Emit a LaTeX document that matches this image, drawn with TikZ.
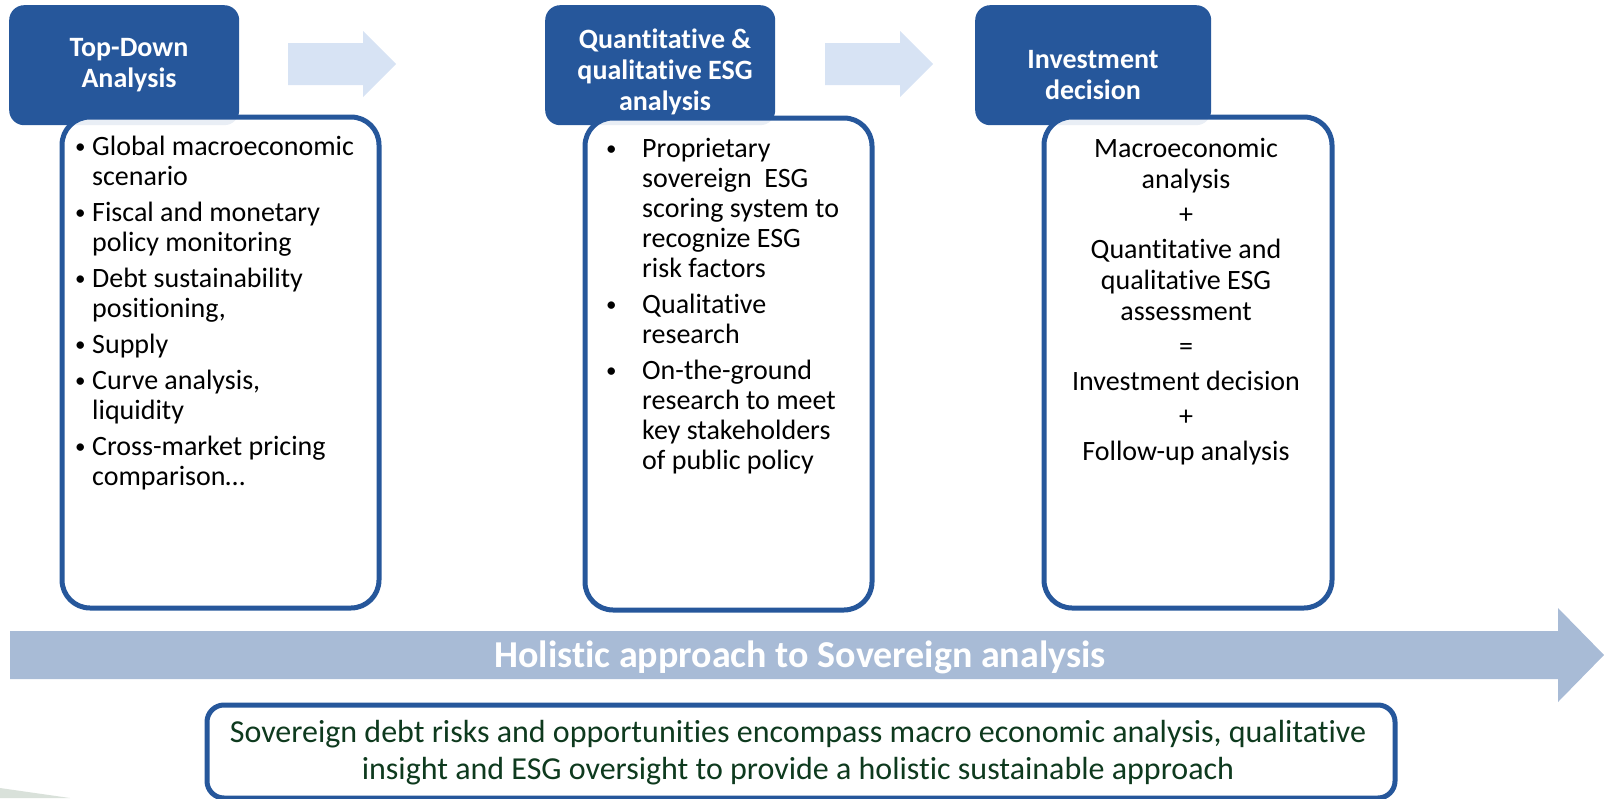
\documentclass[tikz,border=0pt]{standalone}
\usepackage{fontspec}
\setmainfont{Carlito}[Ligatures={NoCommon}]
\definecolor{hdrblue}{RGB}{38,87,155}
\definecolor{arrlight}{RGB}{215,227,244}
\definecolor{arrbig}{RGB}{168,187,214}
\definecolor{txtgreen}{RGB}{14,58,30}
\definecolor{wedgegreen}{RGB}{217,225,218}
\tikzset{
  hdrbox/.style={fill=hdrblue, rounded corners=15pt, inner sep=0pt, anchor=north west},
  contentbox/.style={draw=hdrblue, line width=5pt, fill=white, fill opacity=0.9, rounded corners=28pt, inner sep=0pt, anchor=north west},
  summarybox/.style={draw=hdrblue, line width=5pt, fill=white, rounded corners=17pt, inner sep=0pt, anchor=north west},
  hdrtext/.style={font=\fontsize{28}{31}\selectfont\bfseries, text=white, inner sep=0pt, anchor=base},
  bodytext/.style={font=\fontsize{28}{30}\selectfont, text=black, inner sep=0pt},
  centertext/.style={font=\fontsize{28}{31}\selectfont, text=black, inner sep=0pt, anchor=base},
  smallarrow/.style={fill=arrlight},
  bigarrow/.style={fill=arrbig},
}
\newcommand{\bul}[1]{\makebox[#1][l]{\fontsize{21}{21}\selectfont\raisebox{2pt}{•}}}
\begin{document}
\begin{tikzpicture}[x=1pt,y=-1pt]
\useasboundingbox (0,0) rectangle (1604,798);
% decorative wedge
\fill[wedgegreen] (0,788) -- (70,798) -- (0,798) -- cycle;
% small block arrows
\fill[smallarrow] (288,43) -- (363,43) -- (363,31) -- (396,64) -- (363,97) -- (363,85) -- (288,85) -- cycle;
\fill[smallarrow] (825,43) -- (900,43) -- (900,31) -- (933,64) -- (900,97) -- (900,85) -- (825,85) -- cycle;
% headers
\node[hdrbox, minimum width=230pt, minimum height=120pt] (h1) at (9,5) {};
\node[hdrbox, minimum width=230pt, minimum height=120pt] (h2) at (545,5) {};
\node[hdrbox, minimum width=236pt, minimum height=120pt] (h3) at (975,5) {};
% content boxes
\node[contentbox, minimum width=317pt, minimum height=491pt] (b1) at (59.5,114.5) {};
\node[contentbox, minimum width=287pt, minimum height=492pt] (b2) at (582.5,115.5) {};
\node[contentbox, minimum width=288pt, minimum height=491pt] (b3) at (1041.5,114.5) {};
% header texts
\node[hdrtext] (h1t) at (129,56) {\begin{tabular}[t]{@{}c@{}}Top-Down\\Analysis\end{tabular}};
\node[hdrtext] (h2t) at (665,48) {\begin{tabular}[t]{@{}c@{}}Quantitative \&\\qualitative ESG\\analysis\end{tabular}};
\node[hdrtext] (h3t) at (1093,68) {\begin{tabular}[t]{@{}c@{}}Investment\\decision\end{tabular}};
% body texts
\node[bodytext, anchor=base west] (b1t) at (75,155) {\begin{tabular}[t]{@{}l@{}l@{}}
\bul{17pt} & Global macroeconomic\\
 & scenario\\[6pt]
\bul{17pt} & Fiscal and monetary\\
 & policy monitoring\\[6pt]
\bul{17pt} & Debt sustainability\\
 & positioning,\\[6pt]
\bul{17pt} & Supply\\[6pt]
\bul{17pt} & Curve analysis,\\
 & liquidity\\[6pt]
\bul{17pt} & Cross-market pricing\\
 & comparison…
\end{tabular}};
\node[bodytext, anchor=base west] (b2t) at (606,157) {\begin{tabular}[t]{@{}l@{}l@{}}
\bul{36pt} & Proprietary\\
 & sovereign\ \ ESG\\
 & scoring system to\\
 & recognize ESG\\
 & risk factors\\[6pt]
\bul{36pt} & Qualitative\\
 & research\\[6pt]
\bul{36pt} & On-the-ground\\
 & research to meet\\
 & key stakeholders\\
 & of public policy
\end{tabular}};
\node[centertext] (b3t) at (1186,157) {\begin{tabular}[t]{@{}c@{}}
Macroeconomic\\
analysis\\[4pt]
+\\[4pt]
Quantitative and\\
qualitative ESG\\
assessment\\[4pt]
=\\[4pt]
Investment decision\\[4pt]
+\\[4pt]
Follow-up analysis
\end{tabular}};
% big arrow
\fill[bigarrow] (10,631) -- (1558,631) -- (1558,608) -- (1604,655) -- (1558,702) -- (1558,679) -- (10,679) -- cycle;
\node[font=\fontsize{38}{44}\selectfont\bfseries, text=white, inner sep=0pt, anchor=base] (holistic) at (800,667) {Holistic approach to Sovereign analysis};
% summary box
\node[summarybox, minimum width=1188pt, minimum height=93pt] (sum) at (204.5,702.5) {};
\node[font=\fontsize{32}{37}\selectfont, text=txtgreen, inner sep=0pt, anchor=base] (sumt) at (798,742) {\begin{tabular}[t]{@{}c@{}}Sovereign debt risks and opportunities encompass macro economic analysis, qualitative\\insight and ESG oversight to provide a holistic sustainable approach\end{tabular}};
\end{tikzpicture}
\end{document}
